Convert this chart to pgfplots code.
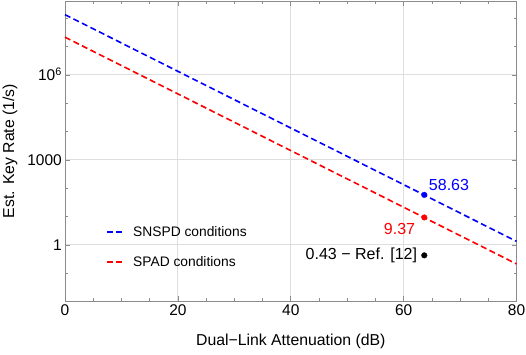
\documentclass[border=0pt]{standalone}
\usepackage{fontspec}
\setmainfont{Liberation Sans}
\usepackage{pgfplots}
\pgfplotsset{compat=1.18}
\usetikzlibrary{calc}

\definecolor{axisgray}{RGB}{140,140,140}
\definecolor{gridgray}{RGB}{222,222,222}

\begin{document}
\begin{tikzpicture}
\begin{axis}[
    scale only axis,
    width=451.5pt, height=300pt,
    xmin=0, xmax=80,
    ymode=log, ymin=1.054e-2, ymax=4.07e8,
    xtick={0,20,40,60,80}, xticklabels={0,20,40,60,80},
    minor xtick={5,10,15,25,30,35,45,50,55,65,70,75},
    ytick={1,1000,1e6}, yticklabels={1,1000,10\smash{\textsuperscript{6}}},
    minor ytick={0.1,10,100,1e4,1e5,1e7,1e8},
    tick align=inside,
    major tick length=5pt, minor tick length=3pt,
    axis line style={axisgray, line width=0.8pt},
    every tick/.style={axisgray, line width=0.7pt},
    xmajorgrids, ymajorgrids,
    major grid style={gridgray, line width=1pt},
    tick label style={font=\fontsize{15.5}{18}\selectfont},
    xticklabel style={inner sep=0pt, yshift=-3.5pt},
    yticklabel style={inner sep=0pt, xshift=-3pt},
    label style={font=\fontsize{15.8}{18}\selectfont},
    xlabel={Dual−Link Attenuation (dB)},
    ylabel={Est. Key Rate (1/s)},
    xlabel style={at={(axis description cs:0.5,-0.135)}, anchor=center},
    ylabel style={at={(axis description cs:-0.122,0.5)}, anchor=center},
    legend style={draw=none, fill=none, at={(axis description cs:0.093,0.248)},
        anchor=north west, inner sep=0pt, row sep=18pt,
        nodes={inner sep=0pt},
        /tikz/every odd column/.append style={column sep=11pt},
        font=\fontsize{13.8}{16}\selectfont},
    legend cell align=left,
    clip=false,
]
\addplot[blue, line width=1.6pt, dash pattern=on 6pt off 3.5pt,
    legend image code/.code={\node[inner sep=0pt, anchor=west, text=blue] at (0pt,0pt)
        {\rule[-0.8pt]{6pt}{1.6pt}\hspace{3pt}\rule[-0.8pt]{6pt}{1.6pt}};}]
    coordinates {(0,1.343e8) (80,1.343)};
\addlegendentry{SNSPD conditions}
\addplot[red, line width=1.6pt, dash pattern=on 6pt off 3.5pt,
    legend image code/.code={\node[inner sep=0pt, anchor=west, text=red] at (0pt,0pt)
        {\rule[-0.8pt]{6pt}{1.6pt}\hspace{3pt}\rule[-0.8pt]{6pt}{1.6pt}};}]
    coordinates {(0,2.147e7) (80,0.2147)};
\addlegendentry{SPAD conditions}

\addplot[forget plot, only marks, blue, mark=*, mark size=2.8pt] coordinates {(63.66,58.63)};
\addplot[forget plot, only marks, red, mark=*, mark size=2.8pt] coordinates {(63.66,9.37)};
\addplot[forget plot, only marks, black, mark=*, mark size=2.8pt] coordinates {(63.66,0.43)};

\node[blue, anchor=south west, inner sep=0pt, font=\fontsize{16}{18}\selectfont]
    at (axis cs:63.66,58.63) [xshift=4.5pt, yshift=4.3pt] {58.63};
\node[red, anchor=north east, inner sep=0pt, font=\fontsize{16}{18}\selectfont]
    at (axis cs:63.66,9.37) [xshift=-9pt, yshift=-5.6pt] {9.37};
\node[black, anchor=east, inner sep=0pt, font=\fontsize{16}{18}\selectfont]
    at (axis cs:63.66,0.43) [xshift=-7pt] {0.43 − Ref. [12]};
\end{axis}
\pgfresetboundingbox
\path ($(current axis.south west)+(-65pt,-53pt)$) rectangle ($(current axis.north east)+(9.5pt,1pt)$);
\end{tikzpicture}
\end{document}
